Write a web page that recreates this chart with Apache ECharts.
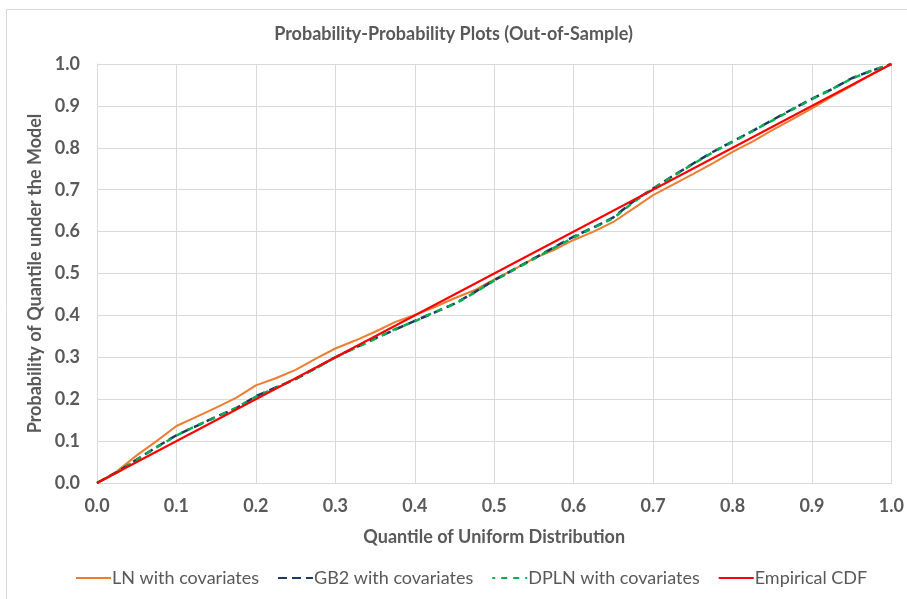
<!DOCTYPE html>
<html>
<head>
<meta charset="utf-8">
<script src="https://cdn.jsdelivr.net/npm/echarts@6/dist/echarts.min.js"></script>
<style>
html,body{margin:0;padding:0;background:#fff;}
#c{width:907px;height:599px;}
</style>
</head>
<body>
<div id="c"></div>
<script>
const quantiles = [0,0.025,0.05,0.075,0.1,0.125,0.15,0.175,0.2,0.225,0.25,0.275,0.3,0.325,0.35,0.375,0.4,0.425,0.45,0.475,0.5,0.525,0.55,0.575,0.6,0.625,0.65,0.675,0.7,0.725,0.75,0.775,0.8,0.825,0.85,0.875,0.9,0.925,0.95,0.975,1.0];
const lnVals = [0,0.028,0.066,0.100,0.136,0.158,0.180,0.203,0.233,0.250,0.270,0.296,0.321,0.340,0.361,0.384,0.401,0.420,0.441,0.460,0.486,0.510,0.536,0.556,0.580,0.600,0.623,0.655,0.687,0.712,0.737,0.763,0.790,0.815,0.842,0.868,0.894,0.922,0.948,0.975,1.0];
const gb2Vals = [0,0.026,0.056,0.086,0.114,0.136,0.158,0.178,0.207,0.228,0.248,0.274,0.300,0.323,0.345,0.366,0.387,0.407,0.428,0.455,0.484,0.510,0.536,0.562,0.588,0.610,0.634,0.672,0.703,0.733,0.762,0.790,0.815,0.840,0.866,0.892,0.917,0.940,0.966,0.984,1.0];
const dplnVals = [0,0.025,0.055,0.085,0.113,0.137,0.157,0.179,0.206,0.227,0.249,0.273,0.300,0.322,0.344,0.367,0.386,0.408,0.427,0.454,0.483,0.509,0.535,0.561,0.586,0.609,0.632,0.670,0.702,0.732,0.761,0.789,0.814,0.840,0.865,0.891,0.916,0.940,0.965,0.984,1.0];
const empX = [0,1];
const empY = [0,1];
const xTicks = ['0.0','0.1','0.2','0.3','0.4','0.5','0.6','0.7','0.8','0.9','1.0'];

const pairs = (xs, ys) => xs.map((x, i) => [x, ys[i]]);
const txt = '#595959';
const font = 'Lato, "Open Sans", sans-serif';

const chart = echarts.init(document.getElementById('c'));
chart.setOption({
  animation: false,
  backgroundColor: '#fff',
  graphic: [{
    type: 'rect', left: 6, top: 9, z: -10,
    shape: {width: 905, height: 595},
    style: {fill: '#fff', stroke: '#D9D9D9', lineWidth: 1}
  }],
  title: {
    text: 'Probability-Probability Plots (Out-of-Sample)',
    left: 'center', top: 20,
    textStyle: {fontFamily: font, fontWeight: 'bold', fontSize: 18, color: txt}
  },
  legend: {
    bottom: 7, left: 70,
    itemWidth: 35, itemHeight: 14, itemGap: 18,
    itemStyle: {opacity: 0},
    textStyle: {fontFamily: font, fontSize: 18, color: txt, padding: [0,0,0,-4]},
    data: ['LN with covariates','GB2 with covariates','DPLN with covariates','Empirical CDF']
  },
  grid: {left: 97, right: 14, top: 64, bottom: 116},
  xAxis: {
    type: 'value', min: 0, max: 1, interval: 0.1,
    name: 'Quantile of Uniform Distribution', nameLocation: 'middle', nameGap: 45,
    nameTextStyle: {fontFamily: font, fontWeight: 'bold', fontSize: 18, color: txt},
    axisLine: {show: true, lineStyle: {color: '#D9D9D9'}},
    axisTick: {show: false},
    axisLabel: {margin: 14, fontFamily: font, fontWeight: 'bold', fontSize: 18, color: txt,
      formatter: v => xTicks[Math.round(v * 10)]},
    splitLine: {show: true, lineStyle: {color: '#D9D9D9', width: 1}}
  },
  yAxis: {
    type: 'value', min: 0, max: 1, interval: 0.1,
    name: 'Probability of Quantile under the Model', nameLocation: 'middle', nameGap: 50,
    nameTextStyle: {fontFamily: font, fontWeight: 'bold', fontSize: 18, color: txt},
    axisLine: {show: true, lineStyle: {color: '#D9D9D9'}},
    axisTick: {show: false},
    axisLabel: {margin: 17, fontFamily: font, fontWeight: 'bold', fontSize: 18, color: txt,
      formatter: v => xTicks[Math.round(v * 10)]},
    splitLine: {show: true, lineStyle: {color: '#D9D9D9', width: 1}}
  },
  series: [
    {name: 'LN with covariates', type: 'line', data: pairs(quantiles, lnVals), symbol: 'none',
      lineStyle: {color: '#ED7D31', width: 2}, itemStyle: {color: '#ED7D31'}},
    {name: 'GB2 with covariates', type: 'line', data: pairs(quantiles, gb2Vals), symbol: 'none',
      lineStyle: {color: '#1F3864', width: 2.5, type: [9, 5]}, itemStyle: {color: '#1F3864'}},
    {name: 'DPLN with covariates', type: 'line', data: pairs(quantiles, dplnVals), symbol: 'none',
      lineStyle: {color: '#00B050', width: 2.5, type: [6, 6], dashOffset: 3}, itemStyle: {color: '#00B050'}},
    {name: 'Empirical CDF', type: 'line', data: pairs(empX, empY), symbol: 'none',
      lineStyle: {color: '#FF0000', width: 2}, itemStyle: {color: '#FF0000'}}
  ]
});
</script>
</body>
</html>
